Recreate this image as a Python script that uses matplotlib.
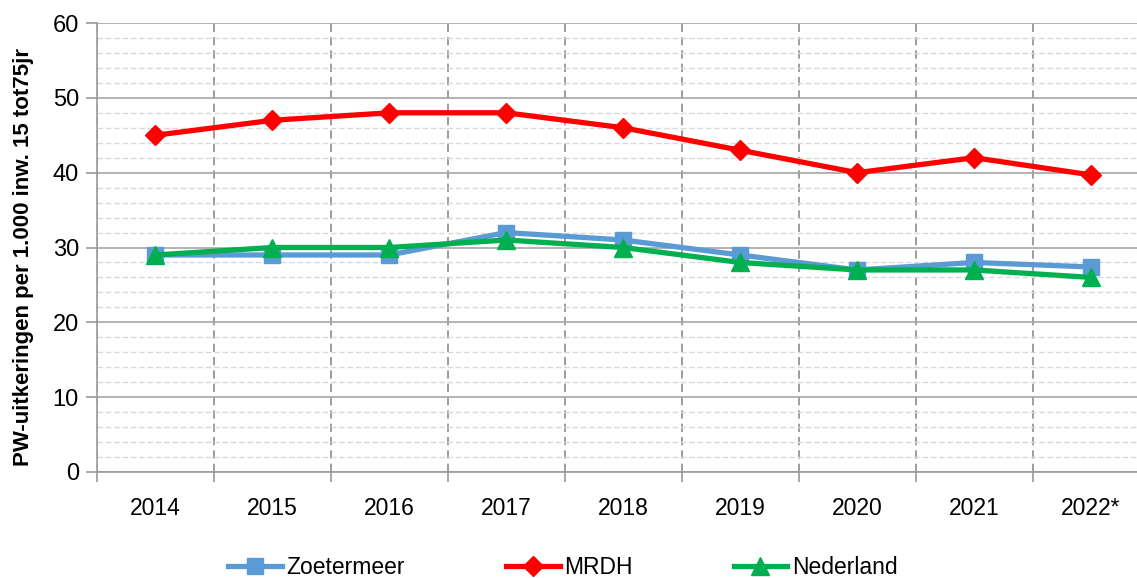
import matplotlib
matplotlib.use('Agg')
import matplotlib.pyplot as plt
from matplotlib.ticker import MultipleLocator, FixedLocator

plt.rcParams['font.family'] = ['Liberation Sans', 'DejaVu Sans']

years = ['2014', '2015', '2016', '2017', '2018', '2019', '2020', '2021', '2022*']
zoetermeer = [29, 29, 29, 32, 31, 29, 27, 28, 27.4]
mrdh = [45, 47, 48, 48, 46, 43, 40, 42, 39.7]
nederland = [29, 30, 30, 31, 30, 28, 27, 27, 26]

fig = plt.figure(figsize=(11.37, 5.78), dpi=100)
# chart is cut off on the right in the original
ax = fig.add_axes([97/1137, 1-472/578, (1149.5-97)/1137, (472-23)/578])

x = list(range(len(years)))
ax.plot(x, zoetermeer, color='#5B9BD5', lw=3.8, marker='s', ms=12, label='Zoetermeer', zorder=3)
ax.plot(x, mrdh, color='#FF0000', lw=3.8, marker='D', ms=10.5, label='MRDH', zorder=4)
ax.plot(x, nederland, color='#00B050', lw=3.8, marker='^', ms=13, label='Nederland', zorder=5)

ax.set_xlim(-0.5, len(years)-0.5)
ax.set_ylim(0, 60)
ax.yaxis.set_major_locator(MultipleLocator(10))
ax.yaxis.set_minor_locator(MultipleLocator(2))
ax.set_xticks(x)
ax.set_xticklabels(years, fontsize=16.5)
ax.xaxis.set_minor_locator(FixedLocator([i-0.5 for i in range(len(years)+1)]))
ax.tick_params(axis='x', which='major', length=0, pad=18)
ax.tick_params(axis='x', which='minor', length=7, color='#999999', width=1.2)
ax.tick_params(axis='y', which='major', length=8, color='#999999', width=1.2, labelsize=17, pad=5)
ax.tick_params(axis='y', which='minor', length=0)

ax.grid(True, axis='y', which='major', color='#a6a6a6', lw=1.2, ls='-')
ax.grid(True, axis='y', which='minor', color='#d9d9d9', lw=1, ls=(0, (4, 2)))
ax.grid(True, axis='x', which='minor', color='#8c8c8c', lw=1.2, ls=(0, (5, 3)))
ax.grid(False, axis='x', which='major')
ax.set_axisbelow(True)

for s in ['top', 'right']:
    ax.spines[s].set_visible(False)
ax.spines['left'].set_color('#999999')
ax.spines['bottom'].set_color('#999999')
ax.spines['left'].set_linewidth(1.2)
ax.spines['bottom'].set_linewidth(1.2)

ax.set_ylabel('PW-uitkeringen per 1.000 inw. 15 tot75jr', fontsize=16, fontweight='bold')
ax.yaxis.set_label_coords(34/1137, 1-257/578, transform=fig.transFigure)

fig.legend(loc='center left', bbox_to_anchor=(228/1137, 1-568/578), ncol=3, frameon=False,
           fontsize=16.5, handlelength=2.35, columnspacing=4.4, handletextpad=0.2,
           borderpad=0, borderaxespad=0)

fig.savefig('out.png', dpi=100)
